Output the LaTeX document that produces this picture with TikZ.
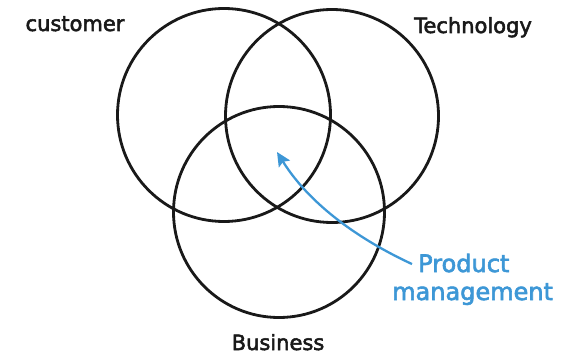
\documentclass[tikz,border=0pt]{standalone}
\usepackage{fontspec}
\setmainfont{DejaVu Sans}[FakeBold=2.5]
\usetikzlibrary{arrows.meta}
\definecolor{pmblue}{HTML}{3D97D6}
\tikzset{
  venn/.style={circle, draw=black!90, line width=2.8pt, inner sep=0pt},
  lbl/.style={font=\fontsize{21}{24}\selectfont, text=black!90, inner sep=0pt, anchor=base},
  bluelbl/.style={font=\fontsize{24}{28}\selectfont, text=pmblue, inner sep=0pt, anchor=base west},
  pmarrow/.style={draw=pmblue, line width=2.3pt, -{Stealth[length=14pt,width=13pt,inset=2.5pt]}}
}
\begin{document}
\begin{tikzpicture}[x=1pt,y=-1pt]
\useasboundingbox (0,0) rectangle (577,355);
\node[venn, minimum size=213pt] (cust) at (224,115) {};
\node[venn, minimum size=213pt] (tech) at (332,116) {};
\node[venn, minimum size=211pt] (bus) at (279,212) {};
\node[lbl] (custl) at (75,31) {customer};
\node[lbl] (techl) at (473,33) {Technology};
\node[lbl] (busl) at (278,350) {Business};
\node[bluelbl] (prod) at (418,272) {Product};
\node[bluelbl] (mgmt) at (392,300) {management};
\coordinate (tip) at (277,152);
\draw[pmarrow] ([xshift=-6pt,yshift=-1pt]prod.west) .. controls (360,240) and (310,205) .. (tip);
\end{tikzpicture}
\end{document}
